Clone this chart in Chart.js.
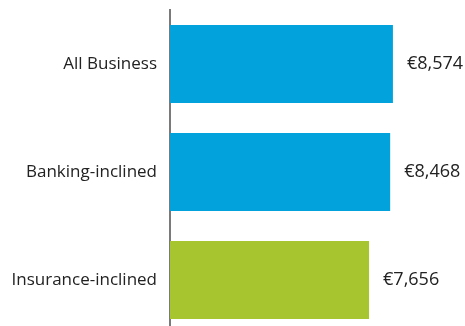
<!DOCTYPE html>
<html>
<head>
<meta charset="utf-8">
<script src="https://cdn.jsdelivr.net/npm/chart.js@4/dist/chart.umd.min.js"></script>
<style>
  html, body { margin: 0; padding: 0; background: #fff; overflow: hidden; }
  #wrap { position: relative; width: 465px; height: 334px; }
</style>
</head>
<body>
<div id="wrap"><canvas id="chart"></canvas></div>
<script>
// Average spend per segment
const categories = ['All Business', 'Banking-inclined', 'Insurance-inclined'];
const values = [8574, 8468, 7656];
const barColors = ['#02a3dd', '#02a3dd', '#a6c52e'];

const fmt = v => '€' + v.toLocaleString('en-US');

// Writes the euro amount just past the end of each bar
const valueLabels = {
  id: 'valueLabels',
  afterDatasetsDraw(chart) {
    const ctx = chart.ctx;
    const meta = chart.getDatasetMeta(0);
    ctx.save();
    ctx.font = '18px "Open Sans", sans-serif';
    ctx.fillStyle = '#222';
    ctx.textAlign = 'left';
    ctx.textBaseline = 'middle';
    meta.data.forEach((bar, i) => {
      ctx.fillText(fmt(chart.data.datasets[0].data[i]), bar.x + 14, bar.y);
    });
    ctx.restore();
  }
};

new Chart(document.getElementById('chart'), {
  type: 'bar',
  data: {
    labels: categories,
    datasets: [{
      data: values,
      backgroundColor: barColors,
      borderWidth: 0,
      categoryPercentage: 1,
      barPercentage: 0.72
    }]
  },
  options: {
    indexAxis: 'y',
    responsive: true,
    maintainAspectRatio: false,
    animation: false,
    layout: { padding: { top: 10, right: 9, bottom: 0, left: 0 } },
    plugins: { legend: { display: false }, tooltip: { enabled: false } },
    scales: {
      x: { display: false, min: 0, max: 11000 },
      y: {
        grid: { display: false, drawTicks: false },
        border: { display: true, color: '#7a7a7a', width: 2 },
        ticks: {
          color: '#222',
          padding: 13,
          font: { family: '"Open Sans", sans-serif', size: 17 }
        },
        afterFit(scale) {
          scale.width = 170;
          scale.paddingTop = 0;
          scale.paddingBottom = 0;
        }
      }
    }
  },
  plugins: [valueLabels]
});
</script>
</body>
</html>
